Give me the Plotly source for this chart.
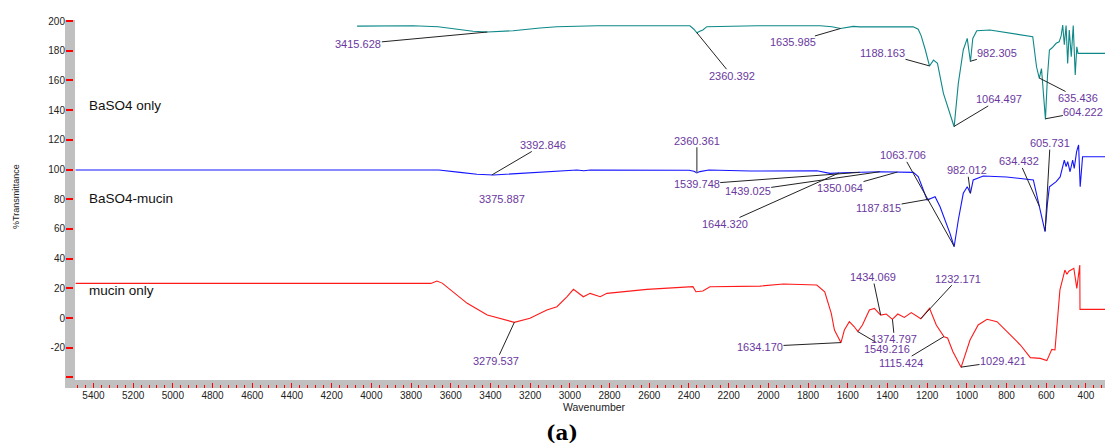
import numpy as np
import plotly.graph_objects as go

# ---------------- data ----------------
baso4_wn = [4072, 3900, 3790, 3664, 3560, 3488, 3415, 3286, 3150, 3065, 2864, 2600, 2395, 2375,
            2360, 2348, 2330, 2310, 2056, 1738, 1680, 1636, 1600, 1572, 1540, 1270, 1245, 1230,
            1209, 1188, 1168, 1148, 1118, 1090, 1064, 1043, 1018, 998, 982, 970, 950, 884, 780,
            668, 649, 635, 624, 604, 594, 584, 570, 550, 535, 525, 517, 509, 500, 492, 484, 474,
            464, 454, 446, 440, 304]
baso4_t = [196.6, 196.9, 196.8, 196.2, 194.5, 193.1, 192.6, 193.5, 195.3, 196.2, 196.8, 196.9, 196.8, 194.5,
           192.1, 193.0, 194.0, 196.2, 196.8, 196.8, 196.2, 195.0, 196.0, 196.4, 196.1, 196.2, 194.5, 190.0,
           180.5, 169.7, 173.7, 171.5, 151.3, 140.0, 128.8, 158.0, 180.5, 188.3, 172.6, 188.3, 193.5, 194.0, 192.0,
           189.4, 169.2, 161.4, 168.0, 133.8, 162.5, 180.5, 182.0, 185.0, 186.0, 190.0, 197.3, 184.0, 197.0, 171.5, 194.0, 176.0,
           197.0, 163.6, 182.7, 178.2, 178.2]

mix_wn = [5490, 3660, 3553, 3468, 3385, 3285, 3150, 2964, 2930, 2897, 2400, 2375, 2360, 2345, 2300,
          2092, 1755, 1690, 1624, 1438, 1270, 1245, 1200, 1180, 1160, 1135, 1085, 1064, 1043, 1018,
          998, 982, 968, 917, 800, 665, 640, 634, 606, 594, 584, 550, 530, 509, 500, 492, 480, 467,
          459, 447, 437, 429, 417, 304]
mix_t = [99.7, 99.7, 98.1, 96.8, 96.3, 97.0, 98.1, 99.7, 99.2, 99.7, 99.5, 98.8, 97.8, 98.6, 99.7,
         99.0, 99.2, 97.4, 97.8, 98.5, 98.1, 95.2, 79.5, 80.5, 81.7, 74.9, 57.0, 48.0, 66.0, 84.0,
         88.4, 84.0, 93.0, 95.6, 95.0, 93.0, 78.3, 74.9, 58.1, 77.2, 88.4, 91.8, 95.0, 106.4, 101.9, 105.3, 98.5, 106.4,
         100.8, 112.0, 116.5, 88.4, 108.6, 108.6]

mucin_wn = [5490, 3700, 3670, 3643, 3517, 3416, 3280, 3201, 3116, 3065, 3015, 2982, 2932, 2898, 2847,
            2813, 2612, 2380, 2365, 2330, 2294, 2042, 1924, 1756, 1716, 1683, 1667, 1634, 1617, 1592,
            1567, 1549, 1526, 1491, 1466, 1434, 1406, 1375, 1348, 1315, 1280, 1232, 1188, 1154, 1115,
            1097, 1070, 1029, 984, 943, 898, 848, 781, 730, 680, 630, 597, 572, 556, 531, 506, 496,
            486, 461, 446, 431, 430, 304]
mucin_t = [23.3, 23.3, 24.9, 23.5, 9.9, 2.0, -2.9, -0.2, 5.4, 7.6, 14.3, 19.3, 14.3, 16.6, 14.3,
           16.6, 19.3, 21.1, 17.7, 18.2, 21.1, 21.5, 22.9, 22.2, 17.7, 3.1, -8.1, -16.6, -8.1, -2.5,
           -5.9, -9.2, -4.7, 5.4, 6.5, 2.0, 2.7, -0.9, 2.7, 0.4, 3.6, -0.5, 6.5, -4.7, -12.6,
           -13.5, -22.7, -33.2, -14.8, -4.7, -0.9, -2.5, -11.4, -18.2, -26.7, -27.2, -28.7, -21.1, -21.5, 18.9, 32.3, 29.5,
           31.5, 33.5, 20.0, 35.7, 5.8, 5.8]

baso4_peaks = ["3415.628", "2360.392", "1635.985", "1188.163", "982.305", "1064.497", "635.436", "604.222"]
mix_peaks = ["3392.846", "3375.887", "2360.361", "1539.748", "1439.025", "1350.064", "1644.320",
             "1063.706", "1187.815", "982.012", "634.432", "605.731"]
mucin_peaks = ["3279.537", "1634.170", "1549.216", "1434.069", "1374.797", "1232.171", "1115.424", "1029.421"]

series_names = ["BaSO4 only", "BaSO4-mucin", "mucin only"]
y_ticks = [-40, -20, 0, 20, 40, 60, 80, 100, 120, 140, 160, 180, 200]
y_ticktext = ["", "-20", "0", "20", "40", "60", "80", "100", "120", "140", "160", "180", "200"]

# ---------------- layout helpers (label offsets in px) ----------------
baso4_off = [(-129, 12), (35, 43), (-48, 14), (-47, -13), (27, -8), (45, -27), (39, 20), (38, -7)]
mix_off = [(51, -30), (7, 24), (0, -32), (-163, 12), (-132, 19), (-57, 16), (-114, 51),
           (-51, -91), (-51, 9), (-3, -23), (-20, -45), (5, -88)]
mucin_off = [(-18, 39), (-81, 4), (29, 17), (-8, -38), (2, 20), (37, -40), (-43, 26), (42, -6)]

colors = ["#0e8888", "#1414ff", "#ff1a1a"]
label_color = "#6a38a0"
font_family = "Liberation Sans, Arial, sans-serif"

fig = go.Figure()
for wn, t, c, name in [(baso4_wn, baso4_t, colors[0], series_names[0]),
                       (mix_wn, mix_t, colors[1], series_names[1]),
                       (mucin_wn, mucin_t, colors[2], series_names[2])]:
    fig.add_trace(go.Scatter(x=wn, y=t, mode="lines", line=dict(color=c, width=1.1),
                             name=name, showlegend=False, hoverinfo="skip"))

annotations = []
for peaks, offs, wn, t in [(baso4_peaks, baso4_off, baso4_wn, baso4_t),
                           (mix_peaks, mix_off, mix_wn, mix_t),
                           (mucin_peaks, mucin_off, mucin_wn, mucin_t)]:
    for lab, (ax, ay) in zip(peaks, offs):
        xv = float(lab)
        yv = float(np.interp(xv, wn[::-1], t[::-1]))
        gray = lab == "2360.361"
        annotations.append(dict(
            x=xv, y=yv, xref="x", yref="y", text=lab, showarrow=True,
            ax=ax, ay=ay, arrowhead=0, arrowwidth=1.6 if gray else 1,
            arrowcolor="#777777" if gray else "#222222", standoff=0, borderpad=0,
            font=dict(family=font_family, size=11, color=label_color)))

# series names
for name, yp in zip(series_names, [0.769, 0.516, 0.2636]):
    annotations.append(dict(x=0.0212, y=yp, xref="paper", yref="paper", text=name,
                            showarrow=False, xanchor="left", yanchor="middle",
                            font=dict(family=font_family, size=13.5, color="#111111")))

annotations.append(dict(x=-0.0471, y=0.519, xref="paper", yref="paper", text="%Transmittance",
                        showarrow=False, textangle=-90, xanchor="center", yanchor="middle",
                        font=dict(family=font_family, size=9, color="#222222")))
annotations.append(dict(x=0.5096, y=-0.0516, xref="paper", yref="paper", text="Wavenumber",
                        showarrow=False, xanchor="center", yanchor="middle",
                        font=dict(family=font_family, size=10.5, color="#222222")))
annotations.append(dict(x=0.4779, y=-0.1223, xref="paper", yref="paper", text="<b>(a)</b>",
                        showarrow=False, xanchor="center", yanchor="middle",
                        font=dict(family="DejaVu Serif, serif", size=20, color="#000000")))

shapes = [
    dict(type="rect", xref="paper", yref="paper", x0=0, x1=10 / 1040, y0=0, y1=1,
         fillcolor="#c0c0c0", line=dict(width=0), layer="below"),
    dict(type="rect", xref="paper", yref="paper", x0=0, x1=1, y0=0, y1=8 / 368,
         fillcolor="#c0c0c0", line=dict(width=0), layer="below"),
]

fig.update_layout(
    width=1105, height=445,
    margin=dict(l=65, r=0, t=20, b=57),
    paper_bgcolor="white", plot_bgcolor="white",
    annotations=annotations, shapes=shapes,
    xaxis=dict(domain=[10 / 1040, 1], range=[5493, 304], anchor="free", position=0,
               tickmode="linear", tick0=0, dtick=200, ticks="inside", ticklen=5,
               tickcolor="#ff0000", tickwidth=1,
               minor=dict(dtick=40, tick0=0, ticks="inside", ticklen=3, tickcolor="#ff0000", tickwidth=1),
               showgrid=False, zeroline=False, showline=False,
               tickfont=dict(family=font_family, size=10, color="#222222")),
    yaxis=dict(domain=[8 / 368, 1], range=[-41.75, 200.7], anchor="free", position=0,
               tickmode="array", tickvals=y_ticks, ticktext=y_ticktext,
               ticks="inside", ticklen=7, tickcolor="#ff0000", tickwidth=1.5,
               showgrid=False, zeroline=False, showline=False,
               tickfont=dict(family=font_family, size=10, color="#222222")),
)

fig.write_html("out.html", config={"displayModeBar": False},
               post_script="document.body.style.margin='0px';")
